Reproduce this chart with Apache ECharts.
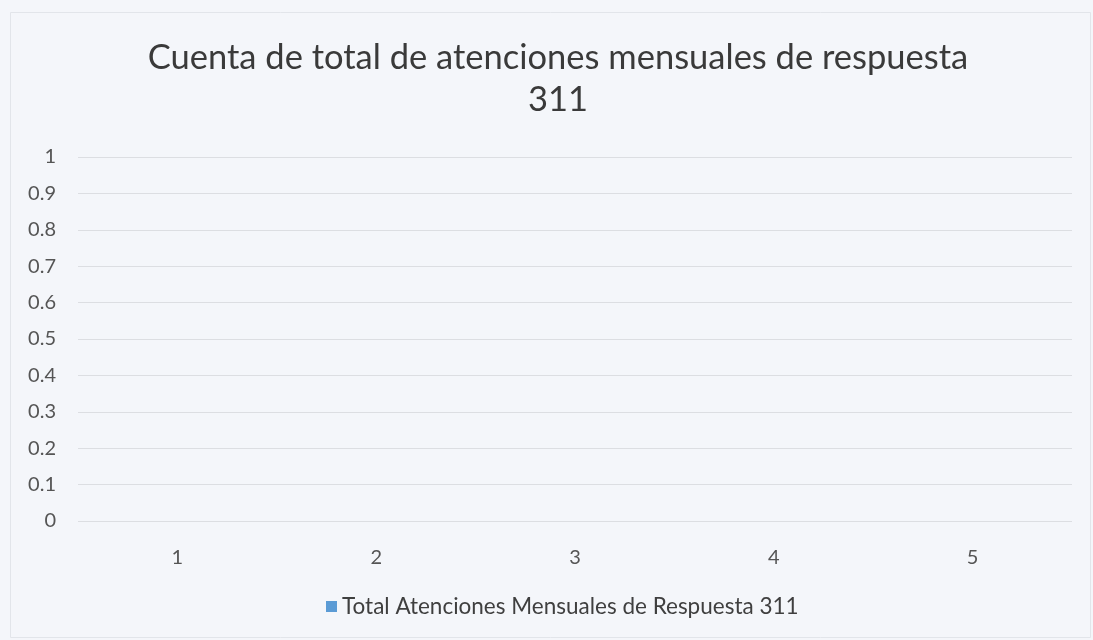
<!DOCTYPE html>
<html><head><meta charset="utf-8">
<script src="https://cdn.jsdelivr.net/npm/echarts@6/dist/echarts.min.js"></script>
<style>html,body{margin:0;padding:0;background:#f4f6fa;}#c{width:1093px;height:640px;}</style>
</head><body><div id="c"></div>
<script>
const titleText = 'Cuenta de total de atenciones mensuales de respuesta\n311';
const categories = ['1', '2', '3', '4', '5'];
const seriesName = 'Total Atenciones Mensuales de Respuesta 311';
const seriesValues = [null, null, null, null, null];
const yTicks = { min: 0, max: 1, interval: 0.1 };

const chart = echarts.init(document.getElementById('c'));
chart.setOption({
  backgroundColor: '#f4f6fa',
  animation: false,
  graphic: [{
    type: 'rect', left: 8, top: 10, shape: { width: 1080, height: 625 },
    style: { fill: 'none', stroke: '#e2e5ea', lineWidth: 1 }, silent: true
  }],
  title: {
    text: titleText, left: 553, top: 32, textAlign: 'center',
    textStyle: { fontFamily: 'Lato', fontWeight: 'normal', fontSize: 34.5, color: '#3a3a3a', lineHeight: 42 }
  },
  legend: {
    top: 590, left: 321, itemWidth: 11, itemHeight: 11, itemGap: 6,
    icon: 'rect',
    textStyle: { fontFamily: 'Lato', fontSize: 22.5, color: '#3f3f3f' },
    data: [seriesName]
  },
  grid: { left: 78, right: 21, top: 157, bottom: 119, containLabel: false },
  xAxis: {
    type: 'category', data: categories,
    axisLine: { show: false }, axisTick: { show: false },
    axisLabel: { fontFamily: 'Lato', fontSize: 20, color: '#555555', margin: 27 }
  },
  yAxis: {
    type: 'value', min: yTicks.min, max: yTicks.max, interval: yTicks.interval,
    axisLine: { show: false }, axisTick: { show: false },
    axisLabel: { fontFamily: 'Lato', fontSize: 20, color: '#555555', margin: 22,
      formatter: v => String(Math.round(v * 10) / 10) },
    splitLine: { lineStyle: { color: '#dcdee2', width: 1 } }
  },
  series: [{ name: seriesName, type: 'bar', data: seriesValues, itemStyle: { color: '#5b9bd5' } }]
});
</script></body></html>
